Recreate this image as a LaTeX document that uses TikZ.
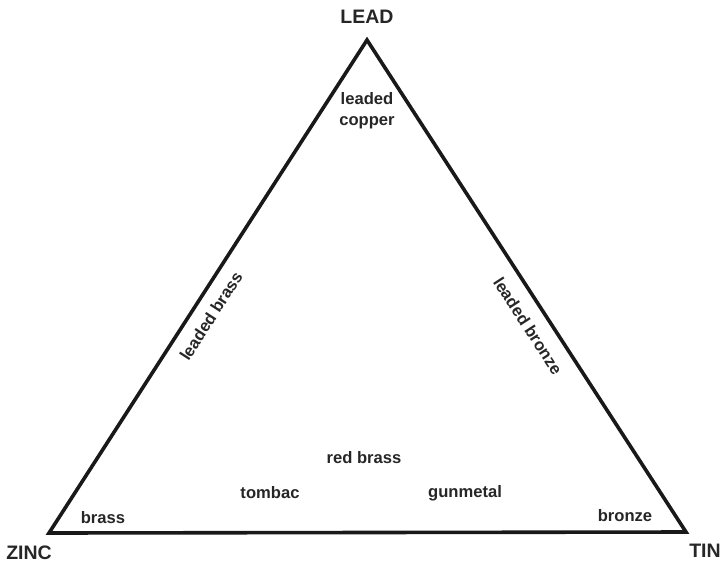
\documentclass[tikz,border=0pt]{standalone}
\usepackage{fontspec}
\setmainfont{Liberation Sans}
\begin{document}
\begin{tikzpicture}[x=1pt,y=-1pt,
  corner/.style={font=\fontsize{19.5}{22}\selectfont\bfseries, text=black!85},
  alloy/.style={font=\fontsize{16.6}{18}\selectfont\bfseries, text=black!85, align=center, inner sep=0pt},
  edge/.style={line width=3.6pt, draw=black!90, line join=miter}]
\useasboundingbox (0,0) rectangle (723,566);
\coordinate (L) at (367,40);
\coordinate (Z) at (49,533);
\coordinate (T) at (686,532);
\draw[edge] (L) -- (T) -- (Z) -- cycle;
\node[corner] (lead) at (367,17) {LEAD};
\node[corner] (zinc) at (29,553) {ZINC};
\node[corner] (tin) at (705,551) {TIN};
\node[alloy, font=\fontsize{16.6}{21}\selectfont\bfseries] (lc) at (367,111) {leaded\\copper};
\node[alloy, rotate=57.3] (lbrass) at (211,316) {leaded brass};
\node[alloy, rotate=-57.1] (lbronze) at (528,326) {leaded bronze};
\node[alloy] (rb) at (364,458) {red brass};
\node[alloy] (tb) at (270,493) {tombac};
\node[alloy] (gm) at (465,493) {gunmetal};
\node[alloy] (br) at (103,518) {brass};
\node[alloy] (bz) at (625,516) {bronze};
\end{tikzpicture}
\end{document}
